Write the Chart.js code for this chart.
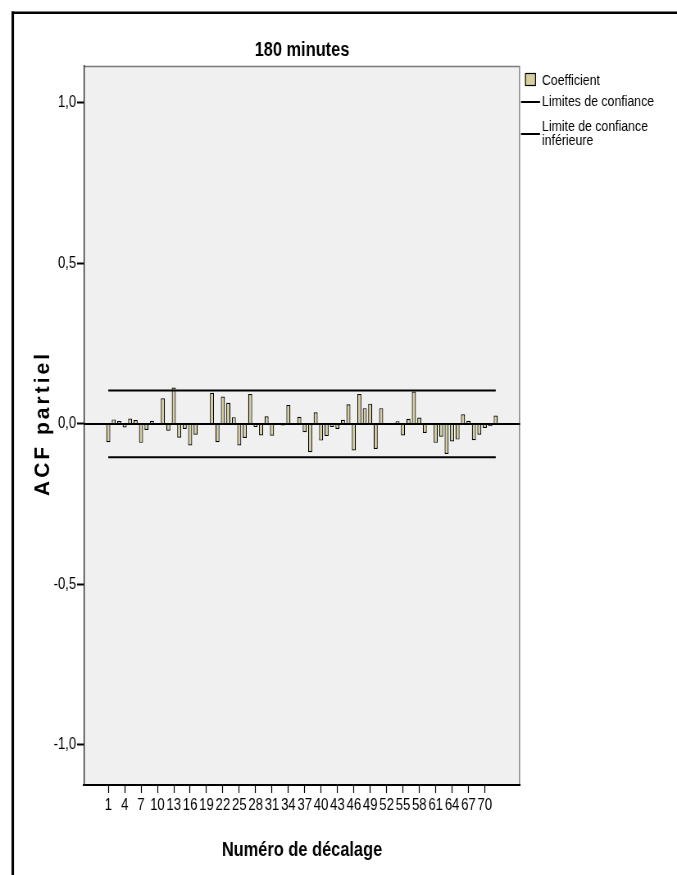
<!DOCTYPE html>
<html>
<head>
<meta charset="utf-8">
<script src="https://cdn.jsdelivr.net/npm/chart.js@4.4.1/dist/chart.umd.min.js"></script>
<style>
  html, body { margin: 0; padding: 0; background: #ffffff; overflow: hidden; }
  #wrap { width: 677px; height: 875px; position: relative; }
  /* The drawing surface is wider than its box, so every glyph comes out condensed
     (Arial Narrow style) once the canvas is fitted to 677 px. */
  #c { display: block; width: 677px; height: 875px; }
</style>
</head>
<body>
<div id="wrap"><canvas id="c" width="826" height="875" style="width:677px;height:875px"></canvas></div>
<script>
// Partial autocorrelation function, 180-minute series
const lagNumbers = [
   1,  2,  3,  4,  5,  6,  7,  8,  9, 10, 11, 12, 13, 14, 15, 16, 17, 18,
  19, 20, 21, 22, 23, 24, 25, 26, 27, 28, 29, 30, 31, 32, 33, 34, 35, 36,
  37, 38, 39, 40, 41, 42, 43, 44, 45, 46, 47, 48, 49, 50, 51, 52, 53, 54,
  55, 56, 57, 58, 59, 60, 61, 62, 63, 64, 65, 66, 67, 68, 69, 70, 71, 72
];
const partialAcf = [
  -0.057,  0.014,  0.009, -0.011,  0.017,  0.012, -0.059, -0.019,  0.010,
   0.002,  0.080, -0.021,  0.113, -0.043, -0.016, -0.067, -0.034,  0.003,
  -0.002,  0.097, -0.057,  0.085,  0.066,  0.021, -0.067, -0.044,  0.093,
  -0.010, -0.036,  0.024, -0.037,  0.003, -0.005,  0.059,  0.001,  0.022,
  -0.026, -0.088,  0.036, -0.052, -0.038, -0.010, -0.016,  0.013,  0.061,
  -0.083,  0.093,  0.049,  0.063, -0.078,  0.049, -0.002,  0.001,  0.008,
  -0.036,  0.016,  0.101,  0.020, -0.028, -0.003, -0.059, -0.040, -0.094,
  -0.055, -0.049,  0.030,  0.010, -0.051, -0.034, -0.013, -0.007,  0.026
];
const upperLimit = 0.104;
const lowerLimit = -0.104;
const yTickValues = [-1.0, -0.5, 0.0, 0.5, 1.0];
const xTickLags = [1, 4, 7, 10, 13, 16, 19, 22, 25, 28, 31, 34, 37, 40, 43, 46, 49, 52, 55, 58, 61, 64, 67, 70];

const chartTitle = '180 minutes';
const xAxisTitle = 'Numéro de décalage';
const yAxisTitle = 'ACF partiel';
const legendCoefficient = 'Coefficient';
const legendUpper = 'Limites de confiance';
const legendLower = ['Limite de confiance', 'inférieure'];

// horizontal squeeze between drawing surface and displayed box
const K = 677 / 826;
const X = px => px / K;   // displayed x -> drawing x

const FONT = '"Liberation Sans", Arial, sans-serif';
const BAR_FILL = '#d6d0a0';
const PLOT_BG = '#f0f0f0';

// Page frame, plot background, zero line, titles and legend
const decorations = {
  id: 'decorations',
  beforeDraw(chart) {
    const { ctx, chartArea: a } = chart;
    ctx.save();
    ctx.fillStyle = '#ffffff';
    ctx.fillRect(0, 0, chart.width, chart.height);
    // outer frame (left and top edges)
    ctx.fillStyle = '#000';
    ctx.fillRect(X(11.5), 11.5, X(2.5), chart.height);
    ctx.fillRect(X(11.5), 11.5, chart.width, 2.5);
    // plot background and border
    ctx.fillStyle = PLOT_BG;
    ctx.fillRect(a.left, a.top, a.right - a.left, a.bottom - a.top);
    ctx.strokeStyle = '#7a7a7a';
    ctx.beginPath();
    ctx.moveTo(a.left, a.top + 0.5);
    ctx.lineTo(a.right - 0.6, a.top + 0.5);
    ctx.lineTo(a.right - 0.6, a.bottom);
    ctx.lineWidth = 1.3;
    ctx.stroke();
    ctx.restore();
  },
  afterDatasetsDraw(chart) {
    const { ctx, chartArea: a, scales } = chart;
    const y0 = scales.y.getPixelForValue(0);
    ctx.save();
    ctx.strokeStyle = '#000';
    ctx.lineWidth = 2;
    ctx.beginPath();
    ctx.moveTo(a.left, y0);
    ctx.lineTo(a.right, y0);
    ctx.stroke();
    ctx.restore();
  },
  afterDraw(chart) {
    const { ctx, chartArea: a } = chart;
    const midX = (a.left + a.right) / 2;
    ctx.save();
    ctx.fillStyle = '#000';
    ctx.textAlign = 'center';
    ctx.textBaseline = 'alphabetic';
    // chart title
    ctx.font = 'bold 20px ' + FONT;
    ctx.fillText(chartTitle, midX, 56);
    // x axis title
    ctx.font = 'bold 20px ' + FONT;
    ctx.fillText(xAxisTitle, midX, 856);
    // y axis title: rotated, wide and letter-spaced (squeeze undone)
    ctx.save();
    ctx.translate(X(49.5), 425);
    ctx.scale(1 / K, 1);
    ctx.rotate(-Math.PI / 2);
    ctx.font = 'bold 21px ' + FONT;
    ctx.letterSpacing = '3px';
    ctx.fillText(yAxisTitle, 1.5, 0);
    ctx.restore();
    // legend
    ctx.font = '15px ' + FONT;
    ctx.textAlign = 'left';
    ctx.textBaseline = 'middle';
    ctx.fillStyle = BAR_FILL;
    ctx.fillRect(X(525), 73, X(11), 13);
    ctx.strokeStyle = '#000';
    ctx.lineWidth = 1.2;
    ctx.strokeRect(X(525) + 0.6, 73.5, X(11) - 1.2, 12);
    ctx.fillStyle = '#000';
    ctx.fillText(legendCoefficient, X(542), 81);
    ctx.lineWidth = 2;
    ctx.beginPath();
    ctx.moveTo(X(521), 102); ctx.lineTo(X(540), 102);
    ctx.moveTo(X(521), 134); ctx.lineTo(X(540), 134);
    ctx.stroke();
    ctx.fillText(legendUpper, X(542), 102);
    ctx.fillText(legendLower[0], X(542), 127);
    ctx.fillText(legendLower[1], X(542), 141);
    ctx.restore();
  }
};

const bars = lagNumbers.map((lag, i) => ({ x: lag, y: partialAcf[i] }));
const firstLag = lagNumbers[0];
const lastLag = lagNumbers[lagNumbers.length - 1];

new Chart(document.getElementById('c'), {
  type: 'bar',
  data: {
    datasets: [
      {
        type: 'bar',
        label: legendCoefficient,
        data: bars,
        backgroundColor: BAR_FILL,
        borderColor: '#000',
        borderWidth: 1.2,
        barPercentage: 0.74,
        categoryPercentage: 1.0,
        order: 2
      },
      {
        type: 'line',
        label: legendUpper,
        data: [{ x: firstLag, y: upperLimit }, { x: lastLag, y: upperLimit }],
        borderColor: '#000',
        borderWidth: 2,
        pointRadius: 0,
        fill: false,
        order: 1
      },
      {
        type: 'line',
        label: legendLower.join(' '),
        data: [{ x: firstLag, y: lowerLimit }, { x: lastLag, y: lowerLimit }],
        borderColor: '#000',
        borderWidth: 2,
        pointRadius: 0,
        fill: false,
        order: 1
      }
    ]
  },
  options: {
    responsive: false,
    animation: false,
    devicePixelRatio: 1,
    layout: { padding: { top: 66, right: 826 - X(520), bottom: 0, left: 0 } },
    plugins: {
      legend: { display: false },
      tooltip: { enabled: false },
      title: { display: false }
    },
    scales: {
      x: {
        type: 'linear',
        position: 'bottom',
        offset: false,
        min: -3.45,
        max: 76.45,
        afterFit(scale) { scale.height = 90; },
        afterBuildTicks(scale) { scale.ticks = xTickLags.map(v => ({ value: v })); },
        ticks: {
          autoSkip: false,
          maxRotation: 0,
          padding: 3,
          color: '#000',
          font: { family: FONT, size: 16 },
          callback: v => String(v)
        },
        grid: {
          offset: false,
          drawOnChartArea: false,
          drawTicks: true,
          tickLength: 8,
          tickColor: '#000',
          tickWidth: 1.2
        },
        border: { display: true, color: '#000', width: 2 }
      },
      y: {
        type: 'linear',
        min: -1.125,
        max: 1.115,
        afterFit(scale) { scale.width = X(84); },
        afterBuildTicks(scale) { scale.ticks = yTickValues.map(v => ({ value: v })); },
        ticks: {
          padding: 1,
          color: '#000',
          font: { family: FONT, size: 16 },
          callback: v => v.toFixed(1).replace('.', ',')
        },
        grid: {
          drawOnChartArea: false,
          drawTicks: true,
          tickLength: X(7),
          tickColor: '#000',
          tickWidth: 2
        },
        border: { display: true, color: '#222', width: 1.3 }
      }
    }
  },
  plugins: [decorations]
});
</script>
</body>
</html>
